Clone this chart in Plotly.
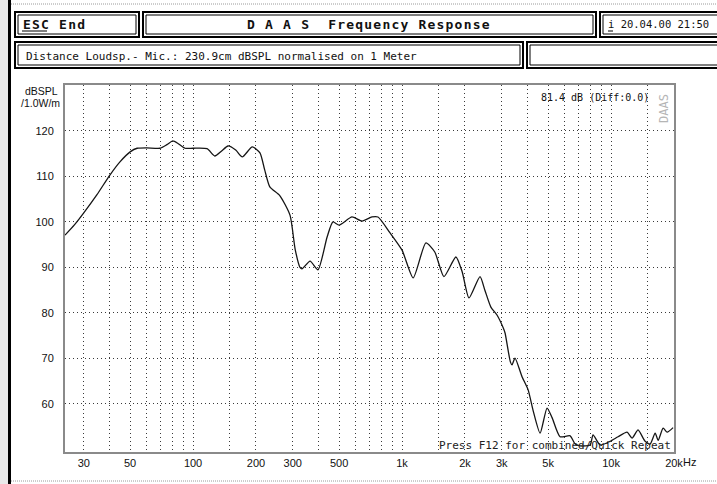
import math
import plotly.graph_objects as go

# ---------------- data ----------------
freq_hz = [24.4, 27, 30, 34.7, 40, 44.7, 50, 54, 60, 69.5, 75, 80, 85, 91.5, 100,
           116.7, 127, 137, 147, 160, 172, 192, 209, 220, 233, 260, 291, 308, 325,
           332, 363, 396, 438, 467, 500, 576, 644, 718, 767, 876, 1000, 1130, 1300,
           1434, 1586, 1810, 1940, 2090, 2360, 2490, 2660, 2850, 3050, 3110, 3300,
           3360, 3470, 3750, 4010, 4240, 4575, 4940, 5220, 5700, 6370, 6730, 7110,
           7940, 8200, 8860, 9890, 10800, 11930, 12600, 13460, 14550, 15370, 16250,
           16800, 17740, 18550, 19800]
spl_db = [97.1, 99.3, 102.0, 106.0, 110.3, 113.2, 115.4, 116.2, 116.3, 116.2, 117.0,
          117.8, 117.2, 116.2, 116.2, 116.1, 114.5, 115.6, 116.7, 115.8, 114.3, 116.5,
          115.2, 111.5, 107.7, 105.8, 101.5, 94.0, 90.0, 89.7, 91.4, 89.5, 96.7, 100.0,
          99.3, 101.1, 100.2, 101.1, 101.1, 97.6, 93.8, 87.7, 95.4, 93.4, 88.0, 92.3,
          89.0, 83.3, 88.0, 85.0, 81.3, 79.5, 76.7, 75.6, 69.2, 68.6, 70.1, 66.0, 63.1,
          58.5, 53.6, 59.1, 57.0, 52.8, 53.0, 51.2, 50.8, 51.0, 53.2, 51.0, 51.8, 52.8,
          53.8, 52.5, 54.3, 51.8, 51.2, 53.6, 52.0, 54.7, 53.8, 54.8]

grid_hz = [30, 40, 50, 60, 70, 80, 90, 100, 150, 200, 300, 400, 500, 600, 700, 800,
           900, 1000, 1500, 2000, 3000, 4000, 5000, 6000, 7000, 8000, 9000, 10000,
           15000, 20000]
label_hz = {30: "30", 50: "50", 100: "100", 200: "200", 300: "300", 500: "500",
            1000: "1k", 2000: "2k", 3000: "3k", 5000: "5k", 10000: "10k", 20000: "20k"}
y_ticks = [60, 70, 80, 90, 100, 110, 120]

title_text = "D A A S  Frequency Response"
esc_text = "ESC End"
date_text = "i 20.04.00 21:50"
info_text = "Distance Loudsp.- Mic.: 230.9cm dBSPL normalised on 1 Meter"
level_text = "81.4 dB (Diff:0.0)"
press_text = "Press F12 for combined/Quick Repeat"

# ---------------- layout helpers (pixel -> paper) ----------------
W, H = 717, 484
L, R, T, B = 65, 674, 85, 452


def px(x):
    return (x - L) / (R - L)


def py(y):
    return (B - y) / (B - T)


MONO = "DejaVu Sans Mono"
SANS = "Liberation Sans"

fig = go.Figure()
fig.add_trace(go.Scatter(
    x=freq_hz, y=spl_db, mode="lines",
    line=dict(color="#151515", width=1.3, shape="spline", smoothing=0.6),
    hoverinfo="skip", showlegend=False))

shapes = []


def rect(x0, y0, x1, y1, **kw):
    d = dict(type="rect", xref="paper", yref="paper",
             x0=px(x0), x1=px(x1), y0=py(y1), y1=py(y0), layer="above")
    d.update(kw)
    shapes.append(d)


def line(x0, y0, x1, y1, **kw):
    d = dict(type="line", xref="paper", yref="paper",
             x0=px(x0), x1=px(x1), y0=py(y0), y1=py(y1), layer="above")
    d.update(kw)
    shapes.append(d)


# left grey strip and thick black frame line
rect(0, 0, 8, H, fillcolor="#e9e9e9", line=dict(width=0))
rect(8, 0, 11, H, fillcolor="#000000", line=dict(width=0))
line(11, 4, W, 4, line=dict(color="#9a9a9a", width=1, dash="1px,1px"))
line(11, 481, W, 481, line=dict(color="#9a9a9a", width=1, dash="1px,1px"))


def dbox(x0, y0, x1, y1):
    rect(x0, y0, x1, y1, line=dict(color="#000", width=2))
    rect(x0 + 3, y0 + 3, x1 - 3, y1 - 3, line=dict(color="#000", width=1))


dbox(15, 12, 139, 37)
dbox(143, 12, 596, 37)
dbox(600, 12, 722, 37)
dbox(15, 42, 523, 68)
dbox(527, 42, 722, 68)

# underlines for hot keys
line(22, 31, 47, 31, line=dict(color="#000", width=1))
line(608, 31, 613, 31, line=dict(color="#000", width=1))

annotations = []


def text(x, y, s, size, family=MONO, anchor="left", color="#111", bold=False,
         spacing=None, **kw):
    if spacing is not None:
        s = '<span style="letter-spacing:%spx">%s</span>' % (spacing, s)
    if bold:
        s = "<b>%s</b>" % s
    annotations.append(dict(
        xref="paper", yref="paper", x=px(x), y=py(y), text=s,
        showarrow=False, xanchor=anchor, yanchor="middle",
        font=dict(family=family, size=size, color=color), **kw))


text(21, 24, esc_text, 13, bold=True, spacing=1.2)
text(369, 24, title_text, 13, anchor="center", bold=True, spacing=1.2)
text(606, 24, date_text, 10.5)
text(24, 56, info_text, 11)
text(41, 91, "dBSPL", 10.5, family=SANS, anchor="center")
text(40, 103, "/1.0W/m", 10.5, family=SANS, anchor="center")
text(539, 97, level_text, 10)
text(664, 109, "DAAS", 12, anchor="center", color="#b5b5b5", textangle=-90)
text(437, 445, press_text, 11, color="#222")
text(681, 462, "Hz", 11, family=SANS)

fig.update_layout(
    width=W, height=H,
    margin=dict(l=L, r=W - R, t=T, b=H - B, pad=0),
    paper_bgcolor="white", plot_bgcolor="white",
    shapes=shapes, annotations=annotations,
    xaxis=dict(
        type="log", range=[math.log10(24.4), math.log10(20000)],
        tickvals=grid_hz, ticktext=[label_hz.get(v, "") for v in grid_hz],
        showgrid=True, gridcolor="#3a3a3a", gridwidth=1, griddash="1px,3px",
        showline=True, mirror=True, linecolor="#8a8a8a", linewidth=2,
        ticks="", zeroline=False, ticklabelstandoff=0,
        tickfont=dict(family=SANS, size=11, color="#111")),
    yaxis=dict(
        range=[49.45, 130.1], tickvals=y_ticks,
        showgrid=True, gridcolor="#3a3a3a", gridwidth=1, griddash="1px,3px",
        showline=True, mirror=True, linecolor="#8a8a8a", linewidth=2,
        ticks="", zeroline=False, ticklabelstandoff=7,
        tickfont=dict(family=SANS, size=11, color="#111")),
)

fig.write_html("out.html", config={"displayModeBar": False},
               post_script="document.body.style.margin='0';")
